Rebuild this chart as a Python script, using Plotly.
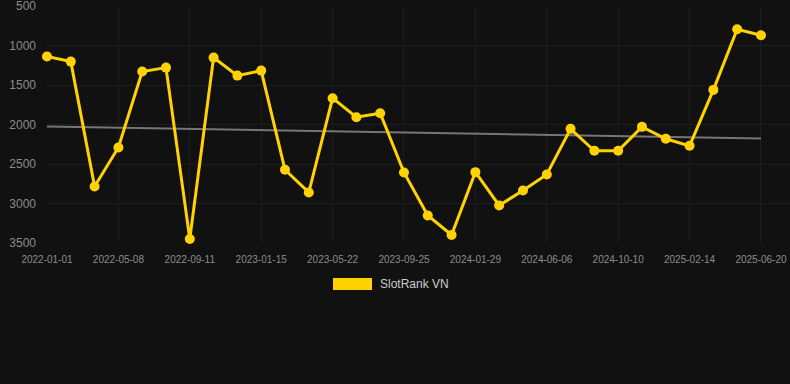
import plotly.graph_objects as go

dates = [
    "2022-01-01", "2022-02-12", "2022-03-26", "2022-05-08", "2022-06-19", "2022-07-31",
    "2022-09-11", "2022-10-23", "2022-12-04", "2023-01-15", "2023-02-26", "2023-04-09",
    "2023-05-22", "2023-07-03", "2023-08-14", "2023-09-25", "2023-11-06", "2023-12-18",
    "2024-01-29", "2024-03-11", "2024-04-23", "2024-06-06", "2024-07-18", "2024-08-29",
    "2024-10-10", "2024-11-21", "2025-01-02", "2025-02-14", "2025-03-28", "2025-05-09",
    "2025-06-20",
]
rank = [
    1140, 1204, 2784, 2291, 1330, 1280, 3450, 1153, 1381, 1318, 2573, 2860,
    1667, 1908, 1857, 2607, 3151, 3399, 2603, 3024, 2835, 2632, 2055, 2333,
    2333, 2030, 2181, 2270, 1562, 795, 871,
]
trend_x = [dates[0], dates[-1]]
trend_y = [2025, 2177]
y_ticks = [500, 1000, 1500, 2000, 2500, 3000, 3500]
x_ticks = dates[::3]
series_name = "SlotRank VN"

GOLD = "#FFD200"
BG = "#111111"
GRID = "#1d1d1d"
FONT = "Liberation Sans, Arial, sans-serif"

fig = go.Figure()
fig.add_trace(go.Scatter(
    x=trend_x, y=trend_y, mode="lines",
    line=dict(color="#767676", width=2),
    showlegend=False, hoverinfo="skip", cliponaxis=False,
))
fig.add_trace(go.Scatter(
    x=dates, y=rank, mode="lines+markers", name=series_name,
    line=dict(color=GOLD, width=3),
    marker=dict(color=GOLD, size=10),
    showlegend=False, cliponaxis=False,
))

W, H = 790, 384
L, R, T, B = 47, 0, 6, 141

fig.update_layout(
    width=W, height=H,
    margin=dict(l=L, r=R, t=T, b=B, pad=0),
    paper_bgcolor=BG, plot_bgcolor=BG,
    font=dict(family=FONT, color="#8c8c8c"),
    showlegend=False,
    xaxis=dict(
        type="category", categoryorder="array", categoryarray=dates,
        range=[0, 31.22],
        tickmode="array", tickvals=x_ticks, ticktext=x_ticks,
        tickfont=dict(size=10, color="#8c8c8c"),
        showgrid=True, gridcolor=GRID, gridwidth=1,
        showline=False, zeroline=False, ticks="",
        ticklabelstandoff=9, ticklabeloverflow="allow",
    ),
    yaxis=dict(
        range=[3500, 500], autorange=False,
        tickmode="array", tickvals=y_ticks, ticktext=[str(v) for v in y_ticks],
        tickfont=dict(size=12, color="#8c8c8c"),
        showgrid=True, gridcolor=GRID, gridwidth=1,
        showline=False, zeroline=False, ticks="",
        ticklabelstandoff=10, ticklabeloverflow="allow",
    ),
)

# legend drawn as rectangle + label (paper coordinates from pixel positions)
def px_x(p):
    return (p - L) / (W - L - R)

def px_y(p):
    return 1 - (p - T) / (H - T - B)

fig.add_shape(type="rect", xref="paper", yref="paper",
              x0=px_x(333), x1=px_x(372), y0=px_y(290), y1=px_y(278),
              fillcolor=GOLD, line=dict(width=0), layer="above")
fig.add_annotation(xref="paper", yref="paper", x=px_x(378), y=px_y(284),
                   text=series_name, showarrow=False, xanchor="left", yanchor="middle",
                   font=dict(size=12, color="#cccccc", family=FONT))

fig.write_html("out.html", config={"displayModeBar": False},
               post_script="document.body.style.margin='0';document.body.style.background='#111111';")
